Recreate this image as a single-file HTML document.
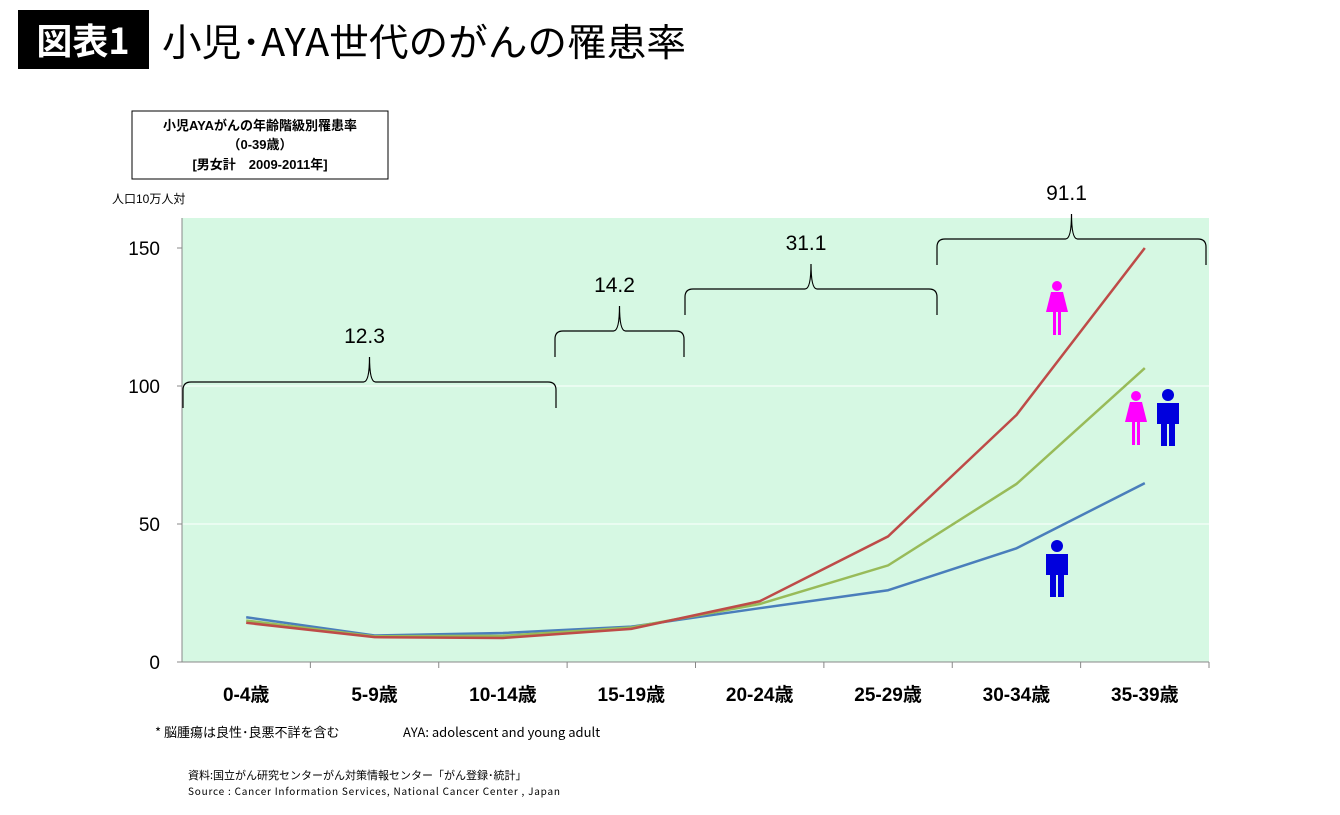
<!DOCTYPE html>
<html><head><meta charset="utf-8"><style>
body{margin:0;background:#fff;width:1340px;height:815px;overflow:hidden;font-family:"Liberation Sans","Noto Sans CJK JP",sans-serif}
</style></head><body>
<svg width="1340" height="815" style="position:absolute;left:0;top:0">
<rect x="18" y="10" width="131" height="59" fill="#000"/>
<text x="83" y="54" fill="#fff" font-size="36" font-weight="bold" text-anchor="middle" font-family="Noto Sans CJK JP,sans-serif">図表1</text>
<text x="162" y="56" font-size="38" textLength="524" lengthAdjust="spacingAndGlyphs" font-family="Noto Sans CJK JP,sans-serif">小児･AYA世代のがんの罹患率</text>
<rect x="132" y="111" width="256" height="68" fill="#fff" stroke="#000"/>
<g font-size="13" font-weight="bold" text-anchor="middle" font-family="Liberation Sans,Noto Sans CJK JP,sans-serif">
<text x="260" y="130">小児AYAがんの年齢階級別罹患率</text>
<text x="260" y="149">（0-39歳）</text>
<text x="260" y="169">[男女計　2009-2011年]</text>
</g>
<text x="112" y="203" font-size="12">人口10万人対</text>
<rect x="182" y="218" width="1027" height="444" fill="#d6f8e3"/>
<g id="grid"></g><g id="axes"></g><g id="lines"></g><g id="braces"></g>
<g transform="translate(1057,280)" fill="#f0f"><circle cx="0" cy="6" r="5"/><path d="M-6 12h12l5 20h-7v23h-3v-23h-2v23h-3v-23h-7z"/></g>
<g transform="translate(1136,390)" fill="#f0f"><circle cx="0" cy="6" r="5"/><path d="M-6 12h12l5 20h-7v23h-3v-23h-2v23h-3v-23h-7z"/></g>
<g transform="translate(1168,388)" fill="#00d"><circle cx="0" cy="7" r="6"/><path d="M-11 15h22v21h-4v22h-6v-22h-2v22h-6v-22h-4z"/></g>
<g transform="translate(1057,539)" fill="#00d"><circle cx="0" cy="7" r="6"/><path d="M-11 15h22v21h-4v22h-6v-22h-2v22h-6v-22h-4z"/></g>
<text x="155" y="737" font-size="13" font-family="Noto Sans CJK JP,sans-serif">* 脳腫瘍は良性･良悪不詳を含む　 <tspan x="403">AYA: adolescent and young adult</tspan></text>
<text x="188" y="779" font-size="11" font-family="Noto Sans CJK JP,sans-serif">資料:国立がん研究センターがん対策情報センター「がん登録･統計」</text>
<text x="188" y="795" font-size="10" textLength="372" font-family="Noto Sans CJK JP,sans-serif">Source : Cancer Information Services, National Cancer Center , Japan</text>
</svg>
<script>
const categories=["0-4歳","5-9歳","10-14歳","15-19歳","20-24歳","25-29歳","30-34歳","35-39歳"];
const femaleValues=[14.2,9,8.7,12,22,45.5,89.5,150];
const totalValues=[15,9.3,9.5,12.5,21,35,64.5,106.5];
const maleValues=[16.2,9.6,10.5,12.8,19.5,26,41.2,64.8];
const yTicks=[0,50,100,150];
const groupLabels=["12.3","14.2","31.1","91.1"];
const X0=182,X1=1209,Y0=662,YS=(662-248)/150,bw=(X1-X0)/categories.length;
const xc=i=>X0+bw*(i+0.5), y=v=>Y0-v*YS;
const braceLeft=[183,555,685,937],braceRight=[556,684,937,1206],braceBottom=[408,357,315,265];
const NS="http://www.w3.org/2000/svg";
function mk(p,t,a){const e=document.createElementNS(NS,t);for(const k in a)e.setAttribute(k,a[k]);document.getElementById(p).appendChild(e);return e;}
yTicks.forEach(v=>{if(v>0&&v<150){const g=mk('grid','line',{x1:X0,x2:X1,y1:y(v),y2:y(v),stroke:'#fff','stroke-width':1});

}
const t=mk('axes','text',{x:160,y:y(v)+7,'font-size':19,'text-anchor':'end'});t.textContent=v;


const tk=mk('axes','line',{x1:X0-5,x2:X0,y1:y(v),y2:y(v),stroke:'#888'});

});
const ax=mk('axes','line',{x1:X0,x2:X0,y1:218,y2:Y0,stroke:'#888'});


const xa=mk('axes','line',{x1:X0,x2:X1,y1:Y0,y2:Y0,stroke:'#888'});


categories.forEach((c,i)=>{const tk=mk('axes','line',{x1:X0+bw*(i+1),x2:X0+bw*(i+1),y1:Y0,y2:Y0+6,stroke:'#888'});


const t=mk('axes','text',{x:xc(i),y:701,'font-size':19,'text-anchor':'middle','font-weight':'bold'});t.textContent=c;

});
[[maleValues,'#4a7ebb','male-line'],[totalValues,'#98bb59','total-line'],[femaleValues,'#be4b48','female-line']].forEach(([d,c,n])=>{
const p=mk('lines','polyline',{points:d.map((v,i)=>xc(i)+','+y(v)).join(' '),fill:'none',stroke:c,'stroke-width':2.5});

});
groupLabels.forEach((l,g)=>{
const a=braceLeft[g],b=braceRight[g],bot=braceBottom[g];
const ln=bot-26,pk=ln-25,m=(a+b)/2;
const d=`M${a} ${bot}V${ln+8}Q${a} ${ln} ${a+8} ${ln}H${m-6}Q${m} ${ln} ${m} ${pk}Q${m} ${ln} ${m+6} ${ln}H${b-8}Q${b} ${ln} ${b} ${ln+8}V${bot}`;
const p=mk('braces','path',{d,fill:'none',stroke:'#000','stroke-width':1.2});


const t=mk('braces','text',{x:m-5,y:pk-14,'font-size':21,'text-anchor':'middle'});t.textContent=l;

});
</script>
</body></html>
